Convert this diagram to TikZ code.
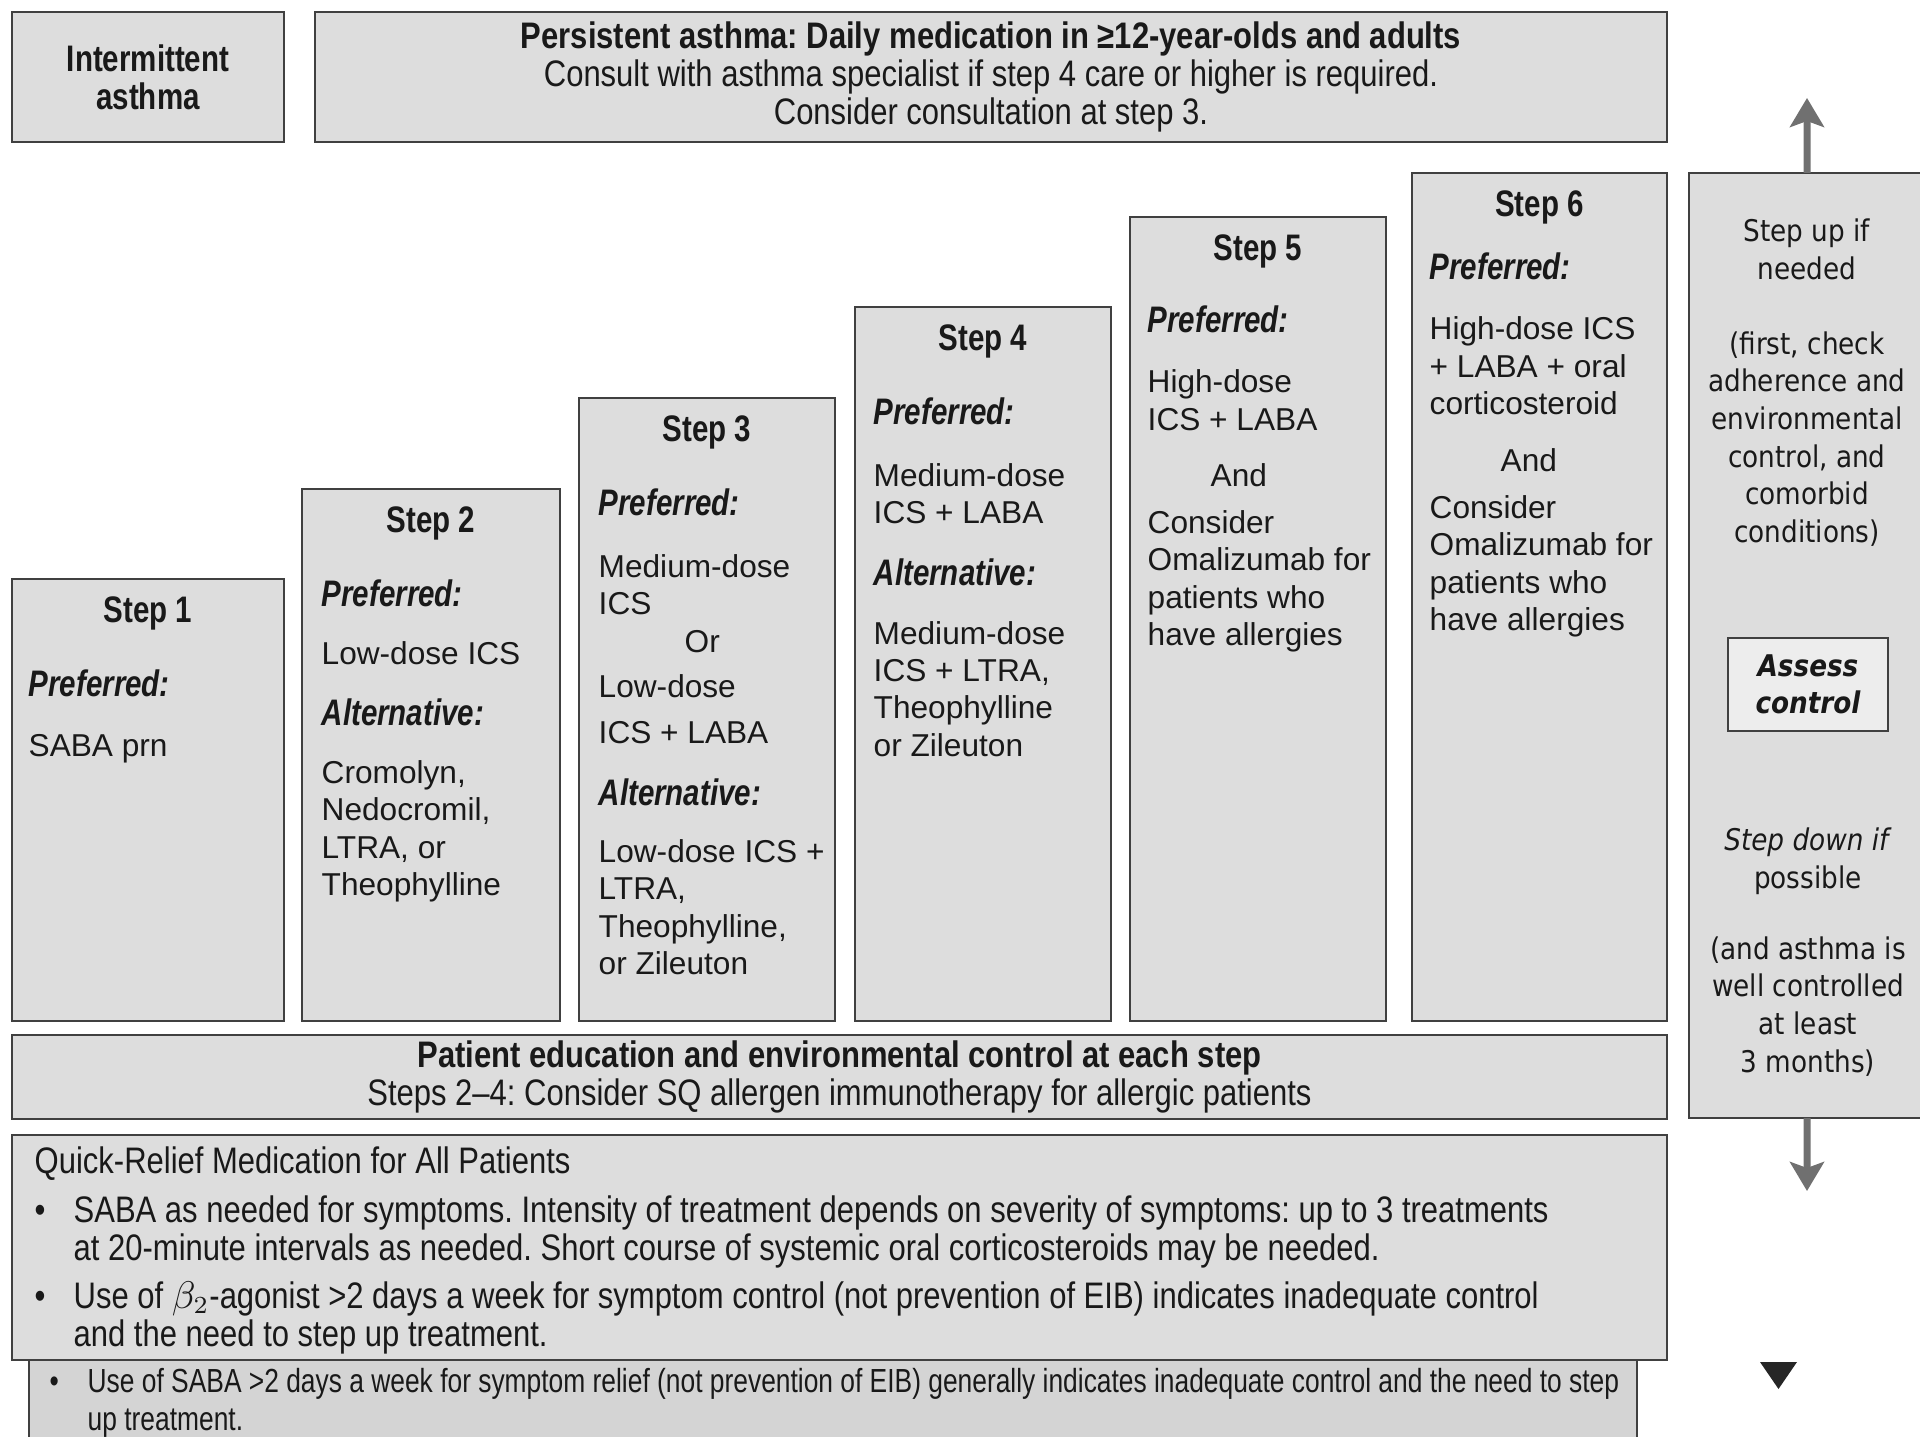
\documentclass[tikz,border=0pt]{standalone}
\usepackage{fontspec}
\setmainfont{Liberation Sans}
\newfontfamily\condfont[FakeStretch=0.8]{Liberation Sans}
\newfontfamily\barfont[FakeStretch=0.84]{Liberation Sans}
\newfontfamily\narrowfont[FakeStretch=0.79]{Liberation Sans}
\newfontfamily\verdfont[FakeStretch=0.88]{DejaVu Sans}
\usetikzlibrary{arrows.meta,positioning}

\definecolor{boxgray}{RGB}{221,221,221}
\definecolor{stripgray}{RGB}{212,212,212}
\definecolor{edgegray}{RGB}{64,64,64}
\definecolor{arrowgray}{RGB}{112,112,112}
\definecolor{inkgray}{RGB}{25,25,25}

\newcommand{\preflabel}{{\condfont\fontsize{10.5}{10.6}\selectfont\bfseries\itshape Preferred:}}
\newcommand{\altlabel}{{\condfont\fontsize{10.5}{10.6}\selectfont\bfseries\itshape Alternative:}}

\begin{document}
\frenchspacing
\begin{tikzpicture}[
    x=0.1mm, y=-0.1mm,
    box/.style={rectangle, draw=edgegray, line width=0.7pt, fill=boxgray, anchor=north west, inner sep=0pt, outer sep=0pt, align=center, text=inkgray},
    stephead/.style={anchor=base, inner sep=0pt, text=inkgray, font=\condfont\fontsize{10.5}{12}\selectfont\bfseries},
    stepbody/.style={anchor=north west, inner sep=0pt, align=left, text=inkgray, font=\fontsize{9}{10.63}\selectfont},
    bartext/.style={font=\barfont\fontsize{10.5}{10.9}\selectfont},
    listtext/.style={anchor=north west, inner sep=0pt, align=left, text=inkgray},
    sidetext/.style={anchor=north, inner sep=0pt, align=center, text=inkgray, font=\verdfont\fontsize{8.5}{10.7}\selectfont},
    updown/.style={-{Stealth[length=2.9mm, width=3.4mm, inset=0.6mm]}, line width=2pt, draw=arrowgray}
]
\useasboundingbox (0,0) rectangle (1920,1437);

% Header row
\node[box, minimum width=27.2mm, minimum height=13mm, font=\condfont\fontsize{10.5}{10.9}\selectfont\bfseries] (inter) at (12,12) {Intermittent\\asthma};
\node[box, bartext, minimum width=135.2mm, minimum height=13mm] (persist) at (315,12)
    {\textbf{Persistent asthma: Daily medication in ≥12-year-olds and adults}\\
     Consult with asthma specialist if step 4 care or higher is required.\\
     Consider consultation at step 3.};

% Steps
\node[box, minimum width=27.2mm, minimum height=44.2mm] (s1) at (12,579) {};
\node[box, minimum width=25.8mm, minimum height=53.2mm] (s2) at (302,489) {};
\node[box, minimum width=25.6mm, minimum height=62.3mm] (s3) at (579,398) {};
\node[box, minimum width=25.6mm, minimum height=71.4mm] (s4) at (855,307) {};
\node[box, minimum width=25.6mm, minimum height=80.4mm] (s5) at (1130,217) {};
\node[box, minimum width=25.5mm, minimum height=84.8mm] (s6) at (1412,173) {};

\node[stephead] (h1) at ([yshift=-4.4mm]s1.north) {Step 1};
\node[stephead] (h2) at ([yshift=-4.4mm]s2.north) {Step 2};
\node[stephead] (h3) at ([yshift=-4.4mm]s3.north) {Step 3};
\node[stephead] (h4) at ([yshift=-4.4mm]s4.north) {Step 4};
\node[stephead] (h5) at ([yshift=-4.4mm]s5.north) {Step 5};
\node[stephead] (h6) at ([yshift=-4.4mm]s6.north) {Step 6};

\node[stepbody] (b1) at ([xshift=1.6mm, yshift=-9mm]s1.north west)
    {\preflabel\\[6.5pt] SABA prn};
\node[stepbody] (b2) at ([xshift=1.9mm, yshift=-9mm]s2.north west)
    {\preflabel\\[6pt] Low-dose ICS\\[6.5pt] \altlabel\\[6pt]
     Cromolyn,\\ Nedocromil,\\ LTRA, or\\ Theophylline};
\node[stepbody] (b3) at ([xshift=1.9mm, yshift=-9mm]s3.north west)
    {\preflabel\\[7pt] Medium-dose\\ ICS\\ \hspace*{8.6mm}Or\\[2.4pt] Low-dose\\[2.4pt] ICS + LABA\\[7pt]
     \altlabel\\[5.5pt] Low-dose ICS +\\ LTRA,\\ Theophylline,\\ or Zileuton};
\node[stepbody] (b4) at ([xshift=1.8mm, yshift=-9mm]s4.north west)
    {\preflabel\\[7pt] Medium-dose\\ ICS + LABA\\[7pt] \altlabel\\[6pt]
     Medium-dose\\ ICS + LTRA,\\ Theophylline\\ or Zileuton};
\node[stepbody] (b5) at ([xshift=1.7mm, yshift=-8.8mm]s5.north west)
    {\preflabel\\[6.5pt] High-dose\\ ICS + LABA\\[5.5pt] \hspace*{6.3mm}And\\[2.7pt]
     Consider\\ Omalizumab for\\ patients who\\ have allergies};
\node[stepbody] (b6) at ([xshift=1.7mm, yshift=-7.9mm]s6.north west)
    {\preflabel\\[6.5pt] High-dose ICS\\ + LABA + oral\\ corticosteroid\\[5.7pt] \hspace*{7.1mm}And\\[2.7pt]
     Consider\\ Omalizumab for\\ patients who\\ have allergies};

% Assess control column
\node[box, minimum width=23.6mm, minimum height=94.5mm] (adj) at (1689,173) {};
\node[box, fill=black!7, minimum width=16mm, minimum height=9.3mm, font=\verdfont\fontsize{8.5}{10.7}\selectfont\bfseries\itshape] (assess) at (1728,638) {Assess\\control};
\node[sidetext] (upnote) at ([yshift=-4.5mm]adj.north)
    {Step up if\\needed\\[10.7pt](first, check\\adherence and\\environmental\\control, and\\comorbid\\conditions)};
\node[sidetext] (downnote) at ([yshift=-9.6mm]assess.south)
    {\textit{Step down if}\\possible\\[9.6pt](and asthma is\\well controlled\\at least\\3 months)};

\coordinate (uptip) at (1807,98);
\coordinate (downtip) at (1807,1191);
\draw[updown] (adj.north) -- (uptip);
\draw[updown] (adj.south) -- (downtip);

% Bottom bars
\node[box, bartext, minimum width=165.5mm, minimum height=8.4mm] (edu) at (12,1035)
    {\textbf{Patient education and environmental control at each step}\\
     Steps 2–4: Consider SQ allergen immunotherapy for allergic patients};

\node[box, fill=stripgray, minimum width=160.8mm, minimum height=9mm] (strip) at (29,1360) {};
\node[listtext, font=\narrowfont\fontsize{9.5}{10.8}\selectfont] (striptext) at ([xshift=2mm, yshift=-0.8mm]strip.north west)
    {\makebox[3.8mm][l]{\textbullet}Use of SABA >2 days a week for symptom relief (not prevention of EIB) generally indicates inadequate control and the need to step\\
     \hspace*{3.8mm}up treatment.};

\node[box, minimum width=165.5mm, minimum height=22.5mm] (relief) at (12,1135) {};
\node[listtext, font=\barfont\fontsize{10.5}{10.8}\selectfont] (relieftext) at ([xshift=2.2mm, yshift=-1.1mm]relief.north west)
    {Quick-Relief Medication for All Patients\\[3.1pt]
     \makebox[3.9mm][l]{\textbullet}SABA as needed for symptoms. Intensity of treatment depends on severity of symptoms: up to 3 treatments\\
     \hspace*{3.9mm}at 20-minute intervals as needed. Short course of systemic oral corticosteroids may be needed.\\[2.8pt]
     \makebox[3.9mm][l]{\textbullet}Use of $\beta_2$-agonist >2 days a week for symptom control (not prevention of EIB) indicates inadequate control\\
     \hspace*{3.9mm}and the need to step up treatment.};

\fill[black!85] (1760,1362) -- (1797,1362) -- (1778.5,1389) -- cycle;

\end{tikzpicture}
\end{document}
